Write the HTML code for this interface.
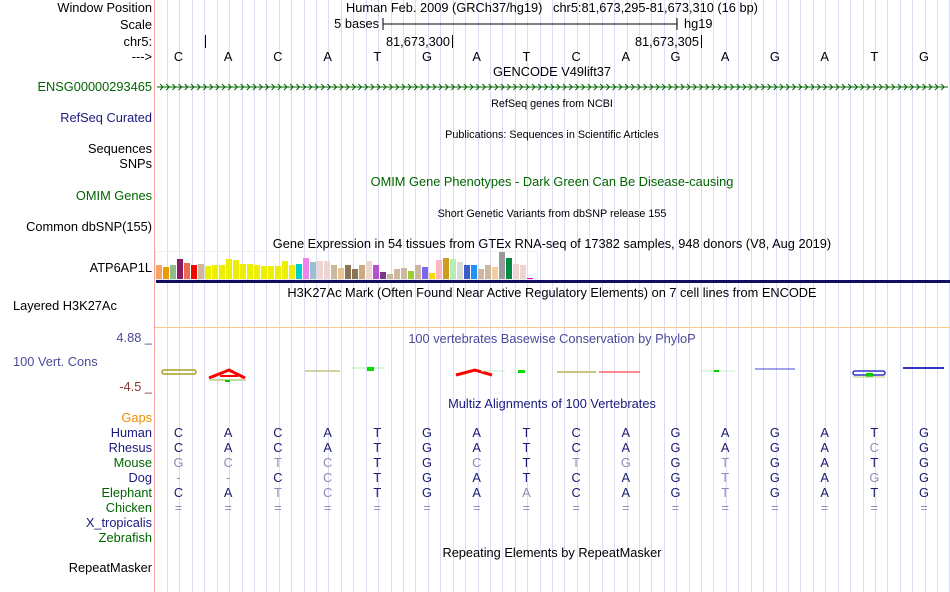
<!DOCTYPE html>
<html><head><meta charset="utf-8">
<style>
body{margin:0;background:#fff;width:950px;height:592px;overflow:hidden;position:relative;font-family:"Liberation Sans",sans-serif;font-size:12.8px;color:#000}
.t{position:absolute;white-space:nowrap;line-height:14px}
.l{position:absolute;right:798px;text-align:right;white-space:nowrap;line-height:14px}
.c{position:absolute;white-space:nowrap;line-height:14px;transform:translateX(-50%)}
.s{font-size:10.8px}
svg{position:absolute;left:0;top:0}
</style></head><body>
<svg width="950" height="592">
<g id="grid"></g>
<line x1="154.5" y1="0" x2="154.5" y2="592" stroke="#f4a4a4" stroke-width="1"/>
<line x1="383" y1="24" x2="677" y2="24" stroke="#000"/>
<line x1="383" y1="18" x2="383" y2="30" stroke="#000"/><line x1="677" y1="18" x2="677" y2="30" stroke="#000"/>
<line x1="205.5" y1="35" x2="205.5" y2="48" stroke="#000"/><line x1="452.5" y1="35" x2="452.5" y2="48" stroke="#000"/><line x1="701.5" y1="35" x2="701.5" y2="48" stroke="#000"/>
<line x1="157" y1="87" x2="948" y2="87" stroke="#006400"/>
<g id="chev" stroke="#006400" fill="none" stroke-width="1"></g>
<rect x="155.5" y="251.5" width="382" height="28" fill="none" stroke="#eee"/>
<g id="bars"></g>
<rect x="156" y="280" width="794" height="3" fill="#101060"/>
<line x1="155" y1="327.5" x2="950" y2="327.5" stroke="#f9c98a"/>
<g>
<rect x="162" y="370" width="34" height="4" rx="2" fill="none" stroke="#a8a020" stroke-width="1.5"/>
<path d="M209 378 L229 370 L245 378" fill="none" stroke="#f00" stroke-width="3"/><line x1="220" y1="376" x2="238" y2="376" stroke="#f00" stroke-width="2"/>
<line x1="210" y1="380" x2="246" y2="380" stroke="#c8d8a0" stroke-width="2"/><rect x="225" y="380" width="5" height="2" fill="#0c0"/>
<line x1="305" y1="371" x2="340" y2="371" stroke="#c8c480" stroke-width="1.5"/>
<line x1="352" y1="368" x2="385" y2="368" stroke="#b0f0b0" stroke-width="1"/><rect x="367" y="367" width="7" height="4" fill="#0d0"/>
<path d="M456 375 L475 370 L492 375" fill="none" stroke="#f00" stroke-width="3"/>
<line x1="481" y1="371" x2="505" y2="371" stroke="#c0f0c0"/><rect x="518" y="370" width="7" height="3" fill="#0d0"/>
<line x1="557" y1="372" x2="596" y2="372" stroke="#c8c480" stroke-width="2"/>
<line x1="599" y1="372" x2="640" y2="372" stroke="#f66" stroke-width="1.5"/>
<line x1="700" y1="371" x2="735" y2="371" stroke="#c0f0c0"/><rect x="714" y="370" width="5" height="2" fill="#0c0"/>
<line x1="755" y1="369" x2="795" y2="369" stroke="#44c" stroke-width="1"/>
<rect x="853" y="371" width="32" height="4" rx="2" fill="none" stroke="#33c" stroke-width="1.5"/><rect x="866" y="373" width="7" height="4" fill="#0c0"/><line x1="853" y1="377" x2="885" y2="377" stroke="#c8c480"/>
<line x1="903" y1="368" x2="944" y2="368" stroke="#33c" stroke-width="2"/>
</g>
</svg>

<div class="l" style="top:1px">Window Position</div>
<div class="l" style="top:18px">Scale</div>
<div class="l" style="top:35px">chr5:</div>
<div class="l" style="top:50px">---&gt;</div>
<div class="l" style="top:80px;color:#006400">ENSG00000293465</div>
<div class="l" style="top:111px;color:#1a1a80">RefSeq Curated</div>
<div class="l" style="top:142px">Sequences</div>
<div class="l" style="top:157px">SNPs</div>
<div class="l" style="top:189px;color:#006400">OMIM Genes</div>
<div class="l" style="top:220px">Common dbSNP(155)</div>
<div class="l" style="top:261px">ATP6AP1L</div>
<div class="t" style="left:13px;top:299px">Layered H3K27Ac</div>
<div class="l" style="top:331px;color:#4a4a9a">4.88 _</div>
<div class="t" style="left:13px;top:355px;color:#4a4a9a">100 Vert. Cons</div>
<div class="l" style="top:380px;color:#8b3a3a">-4.5 _</div>
<div class="l" style="top:411px;color:#f08c00">Gaps</div>
<div class="l" style="top:426px;color:#1a1a80">Human</div>
<div class="l" style="top:441px;color:#1a1a80">Rhesus</div>
<div class="l" style="top:456px;color:#006400">Mouse</div>
<div class="l" style="top:471px;color:#1a1a80">Dog</div>
<div class="l" style="top:486px;color:#006400">Elephant</div>
<div class="l" style="top:501px;color:#006400">Chicken</div>
<div class="l" style="top:516px;color:#1a1a80">X_tropicalis</div>
<div class="l" style="top:531px;color:#006400">Zebrafish</div>
<div class="l" style="top:561px">RepeatMasker</div>

<div class="c" style="left:552px;top:1px">Human Feb. 2009 (GRCh37/hg19)&nbsp;&nbsp;&nbsp;chr5:81,673,295-81,673,310 (16 bp)</div>
<div class="t" style="left:379px;top:17px;transform:translateX(-100%)">5 bases</div>
<div class="t" style="left:684px;top:17px">hg19</div>
<div class="t" style="left:450px;top:35px;transform:translateX(-100%)">81,673,300</div>
<div class="t" style="left:699px;top:35px;transform:translateX(-100%)">81,673,305</div>
<div class="c" style="left:552px;top:65px">GENCODE V49lift37</div>
<div class="c s" style="left:552px;top:97px">RefSeq genes from NCBI</div>
<div class="c s" style="left:552px;top:128px">Publications: Sequences in Scientific Articles</div>
<div class="c" style="left:552px;top:175px;color:#006400">OMIM Gene Phenotypes - Dark Green Can Be Disease-causing</div>
<div class="c s" style="left:552px;top:207px">Short Genetic Variants from dbSNP release 155</div>
<div class="c" style="left:552px;top:237px">Gene Expression in 54 tissues from GTEx RNA-seq of 17382 samples, 948 donors (V8, Aug 2019)</div>
<div class="c" style="left:552px;top:286px">H3K27Ac Mark (Often Found Near Active Regulatory Elements) on 7 cell lines from ENCODE</div>
<div class="c" style="left:552px;top:332px;color:#4a4a9a">100 vertebrates Basewise Conservation by PhyloP</div>
<div class="c" style="left:552px;top:397px;color:#1a1a80">Multiz Alignments of 100 Vertebrates</div>
<div class="c" style="left:552px;top:546px">Repeating Elements by RepeatMasker</div>
<div id="seq"></div>

<script>
const tissueValues=[14,12,14,20,16,14,15,13,14,14,20,19,15,15,14,13,13,13,18,14,15,21,17,18,18,14,11,14,10,14,18,14,7,5,10,11,8,14,12,6,19,21,20,17,14,14,10,14,12,27,21,15,14,1];
const tissueColors=["#f5a561","#ee9a00","#8fbc8f","#8b1c62","#ee6a50","#ff0000","#cdb79e","#eeee00","#eeee00","#eeee00","#eeee00","#eeee00","#eeee00","#eeee00","#eeee00","#eeee00","#eeee00","#eeee00","#eeee00","#eeee00","#00cdcd","#ee82ee","#9ac0cd","#eed5d2","#eed5d2","#cdb79e","#eec591","#8b7355","#8b7355","#cdaa7d","#eed5d2","#b452cd","#7a378b","#cdb79e","#cdb79e","#cdb79e","#9acd32","#cdb79e","#7a67ee","#ffd700","#ffb6c1","#cd9b1d","#b4eeb4","#d9d9d9","#3a5fcd","#1e90ff","#cdb79e","#cdb79e","#eecfa1","#999999","#008b45","#eed5d2","#eed5d2","#ee00ee"];
const refBases="CACATGATCAGAGATG".split("");
const species=["Human","Rhesus","Mouse","Dog","Elephant","Chicken"];
const alignRows=["CACATGATCAGAGATG","CACATGATCAGAGACG","GCTCTGCTTGGTGATG","--CCTGATCAGTGAGG","CATCTGAACAGTGATG","================"];
const grayMask=["0000000000000000","0000000000000010","1111001011010000","1101000000010010","0011000100010000","1111111111111111"];
const NS="http://www.w3.org/2000/svg";
const baseX=i=>154+49.7*i+24.5;
const barX=i=>156+7*i;
const barY=v=>279-v;
const grid=document.getElementById('grid');
for(let x=167;x<950;x+=12.42){const l=document.createElementNS(NS,'line');l.setAttribute('x1',Math.round(x)+.5);l.setAttribute('x2',Math.round(x)+.5);l.setAttribute('y1',0);l.setAttribute('y2',592);l.setAttribute('stroke','#dcdcf4');grid.appendChild(l);}
const ch=document.getElementById('chev');
for(let x=160;x<946;x+=6.2){const p=document.createElementNS(NS,'path');p.setAttribute('d',`M${x} 84 L${x+3} 87 L${x} 90`);ch.appendChild(p);}
const bars=document.getElementById('bars');
tissueValues.forEach((v,i)=>{const r=document.createElementNS(NS,'rect');


r.setAttribute('x',barX(i));r.setAttribute('y',barY(v));r.setAttribute('width',6);r.setAttribute('height',v);r.setAttribute('fill',tissueColors[i]);bars.appendChild(r);});
const seq=document.getElementById('seq');
refBases.forEach((b,i)=>{const d=document.createElement('div');d.className='c';d.style.left=baseX(i)+'px';d.style.top='50px';d.textContent=b;


seq.appendChild(d);});
alignRows.forEach((row,r)=>{row.split("").forEach((b,i)=>{const d=document.createElement('div');d.className='c';d.style.left=baseX(i)+'px';d.style.top=(426+15*r)+'px';d.style.color=grayMask[r][i]==='1'?'#8c8cb8':'#1a1a70';d.textContent=b;


seq.appendChild(d);});});
</script>
</body></html>
